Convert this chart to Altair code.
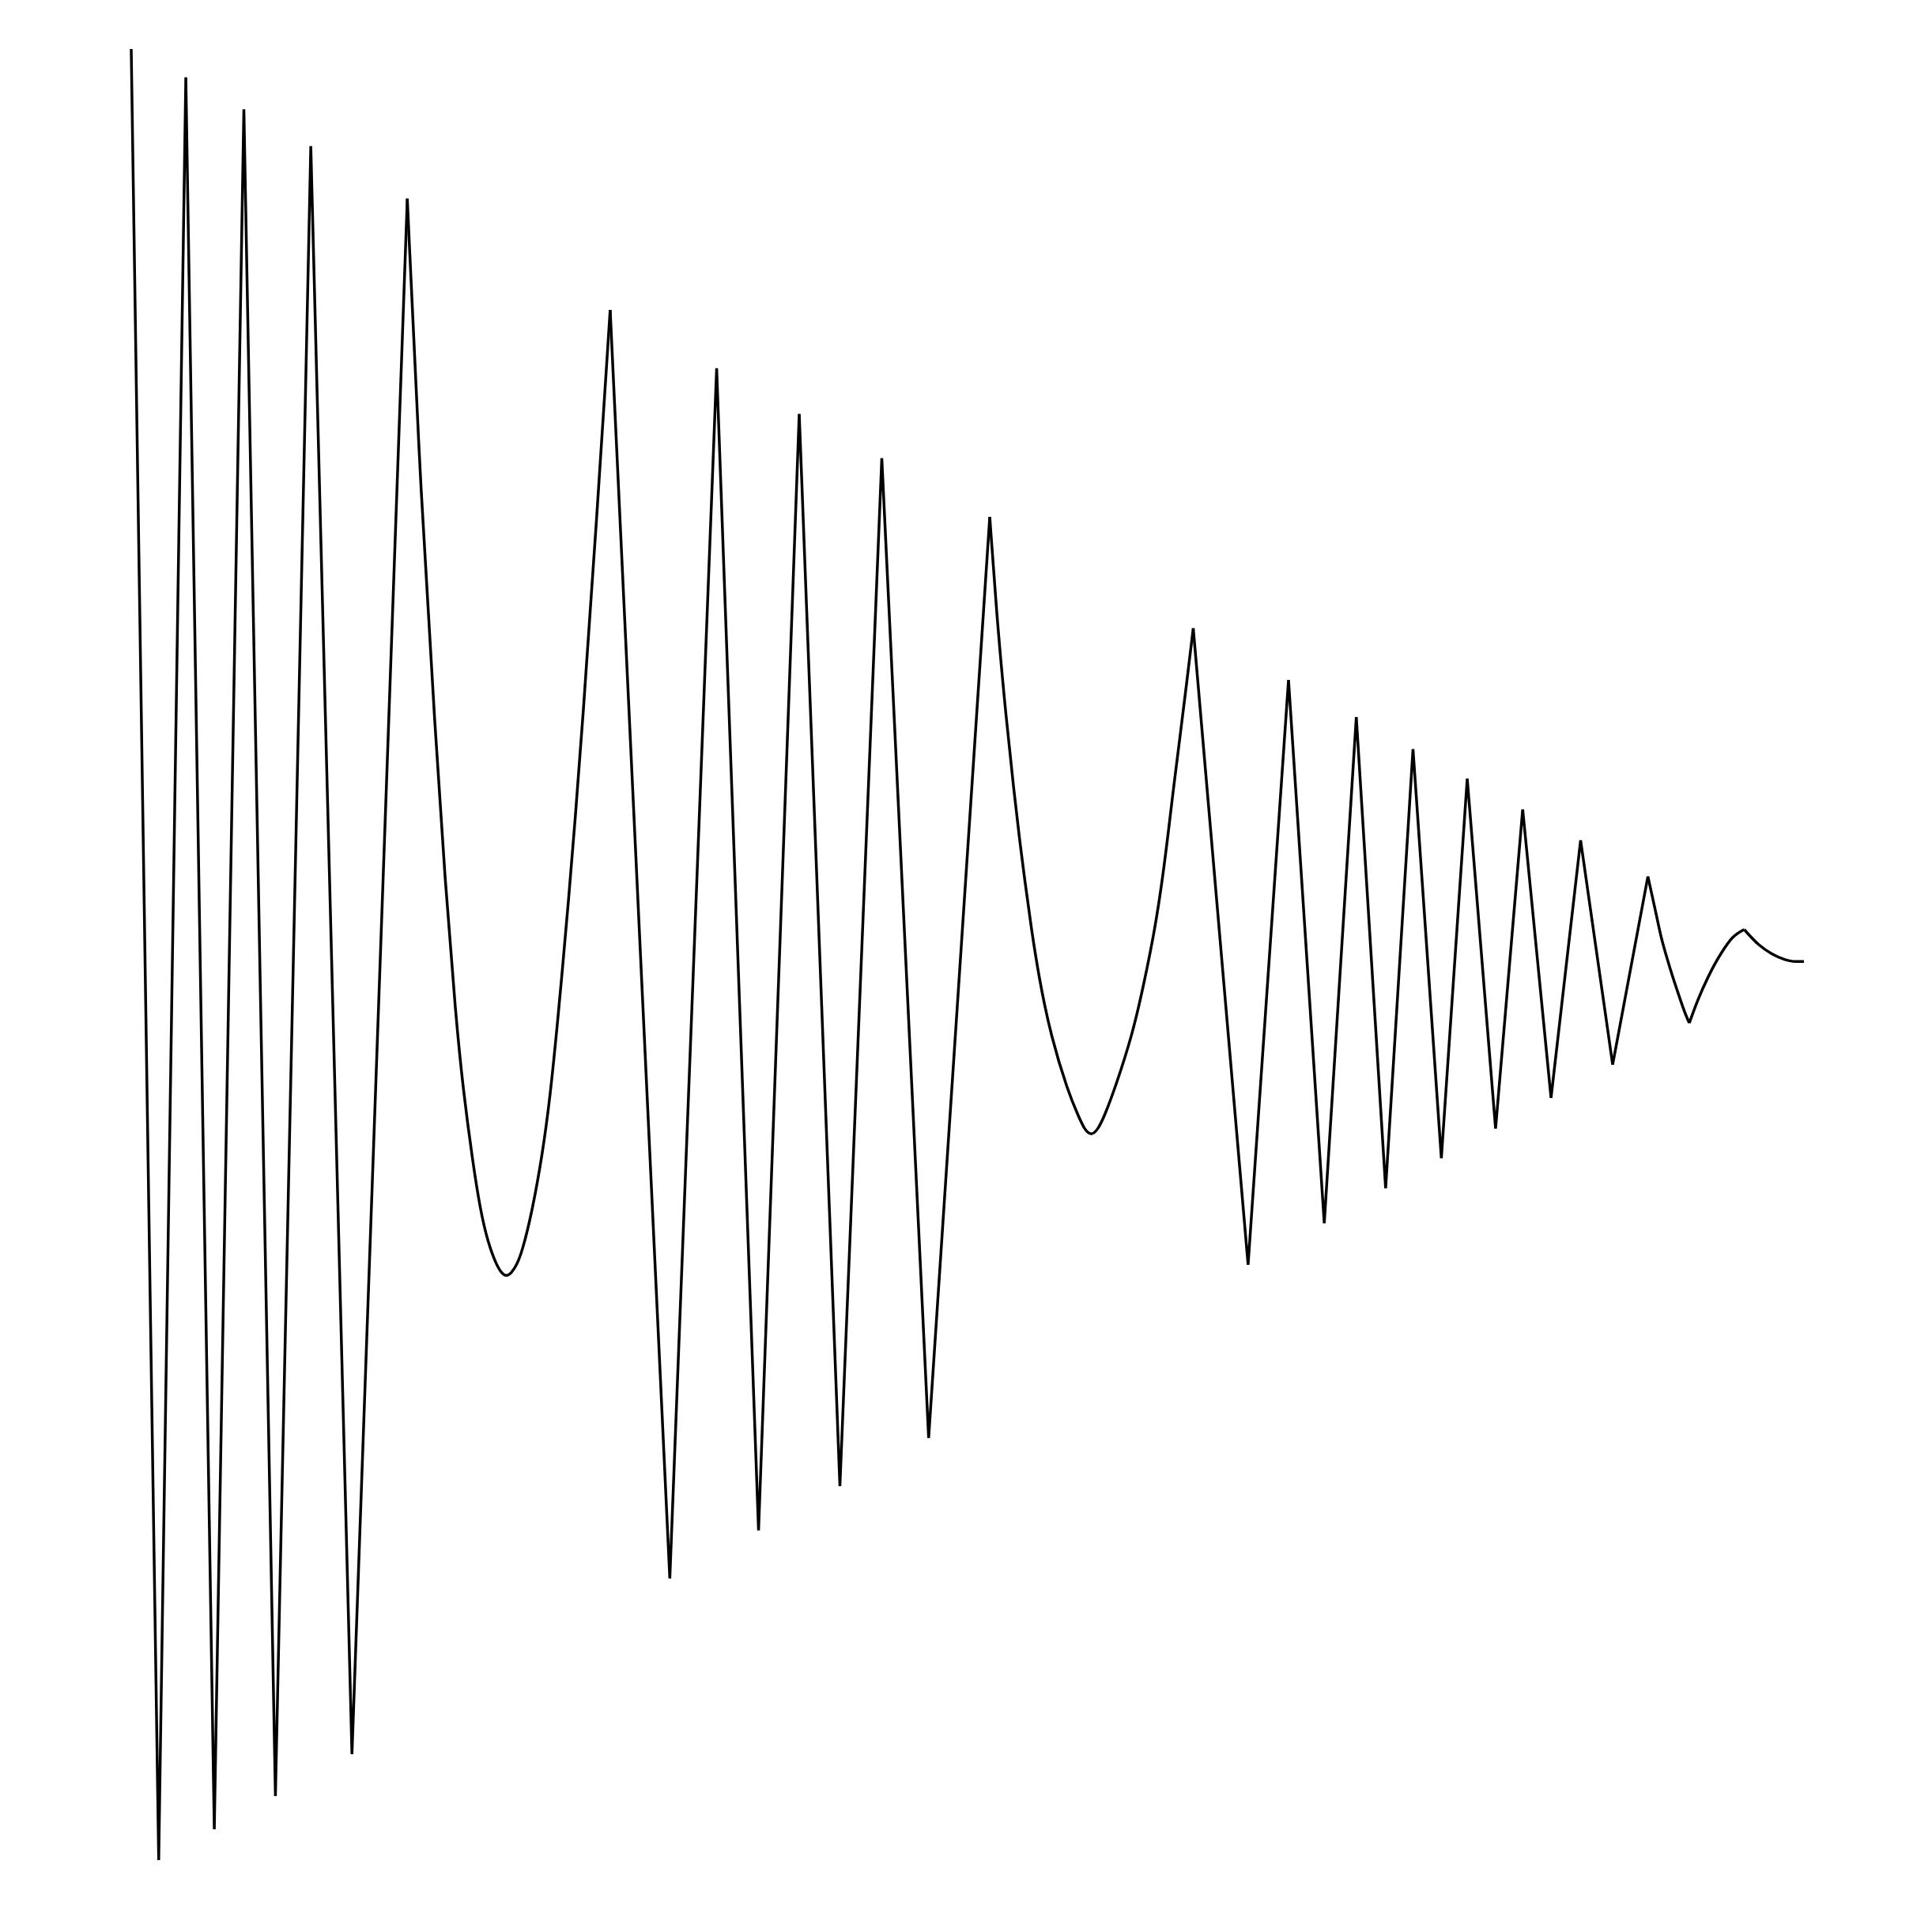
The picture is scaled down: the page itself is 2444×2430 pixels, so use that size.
import altair as alt
import pandas as pd

# Time (arbitrary units) and displacement
t = [0, 22.3, 44.3, 67.4, 91.4, 117, 145.7, 179.1, 224,
     235.1, 246.9, 254.4, 263.5, 269.3, 276.8, 283.2, 289.6, 296.1, 300.3, 304.2,
     308.2, 312.7, 317.4, 324.9, 333.5, 339.9, 345.2, 349.5, 354.9, 360.2, 366,
     377.3, 388.6,
     437, 475, 509, 542, 575, 609, 647,
     696.6, 702.8, 709.9, 716.3, 720.5, 724.8, 730.2, 736.6, 746.2, 760.1, 768.6,
     773.6, 778.9, 784.2, 789.6, 798.6, 812.5, 822.1, 830.7, 837.1, 842, 845.6,
     851, 856.3, 861.7,
     906.2, 939, 968, 994, 1017.8, 1040, 1063, 1084, 1107, 1129, 1152, 1176, 1202,
     1230.6, 1236.6, 1241.3, 1247.3, 1254.1, 1261.6, 1264.2, 1271.2, 1279.8,
     1290.5, 1299, 1308.7, 1320.4, 1331.1, 1341.8, 1350.3, 1357.2]

displacement = [735, -734.5, 712, -709.5, 686, -682.5, 656.2, -648.5, 613.5,
                369, 179, 63, -52, -109, -166, -207, -234, -251, -258, -261,
                -258.5, -252, -240, -210, -163, -115, -62, -16, 45, 110, 185,
                348, 523.3,
                -506, 476, -467, 439, -431, 403, -392,
                355.3, 268, 192, 132, 96, 62, 22, -19, -66, -111, -131,
                -142, -146.7, -142, -131, -107.1, -64.3, -21.5, 21.2, 64, 104, 134.6,
                177.4, 220.1, 265,
                -251.4, 223, -217.7, 193, -189.4, 167, -165, 143, -141, 118, -116, 93, -89,
                63.6, 36.2, 14.8, -6.6, -28, -49.3, -55.3, -36.5, -17.3,
                2, 13.7, 20.6, 8.4, 0.9, -3.8, -5.3, -5.3]

# index ranges (inclusive): straight zig-zag runs, wide smooth troughs, short arcs
straight_runs = [(0, 8), (32, 40), (64, 78)]
trough_runs = [(8, 32), (40, 64)]
arc_runs = [(78, 84), (84, 89), (89, 94)]


def build(runs, kind):
    rows = []
    for k, (a, b) in enumerate(runs):
        for i in range(a, b + 1):
            rows.append({"t": t[i], "y": displacement[i], "run": f"{kind}{k}"})
    return pd.DataFrame(rows)


x_enc = alt.X("t:Q", axis=None,
              scale=alt.Scale(domain=[0, 1357.2], nice=False, zero=False))
y_enc = alt.Y("y:Q", axis=None,
              scale=alt.Scale(domain=[-734.5, 735], nice=False, zero=False))

SW = 3.5

straight = (
    alt.Chart(build(straight_runs, "s"))
    .mark_line(color="black", strokeWidth=SW)
    .encode(x=x_enc, y=y_enc, detail="run:N")
)
troughs = (
    alt.Chart(build(trough_runs, "c"))
    .mark_line(color="black", strokeWidth=SW, interpolate="basis")
    .encode(x=x_enc, y=y_enc, detail="run:N")
)
arcs = (
    alt.Chart(build(arc_runs, "a"))
    .mark_line(color="black", strokeWidth=SW, interpolate="monotone")
    .encode(x=x_enc, y=y_enc, detail="run:N")
)

chart = (
    alt.layer(straight, troughs, arcs)
    .properties(
        width=2116,
        height=2291,
        padding={"left": 151, "top": 47, "right": 20, "bottom": 20},
    )
    .configure(background="white")
    .configure_view(stroke="transparent")
)

chart.save("out.html", embed_options={"renderer": "svg", "actions": False})
